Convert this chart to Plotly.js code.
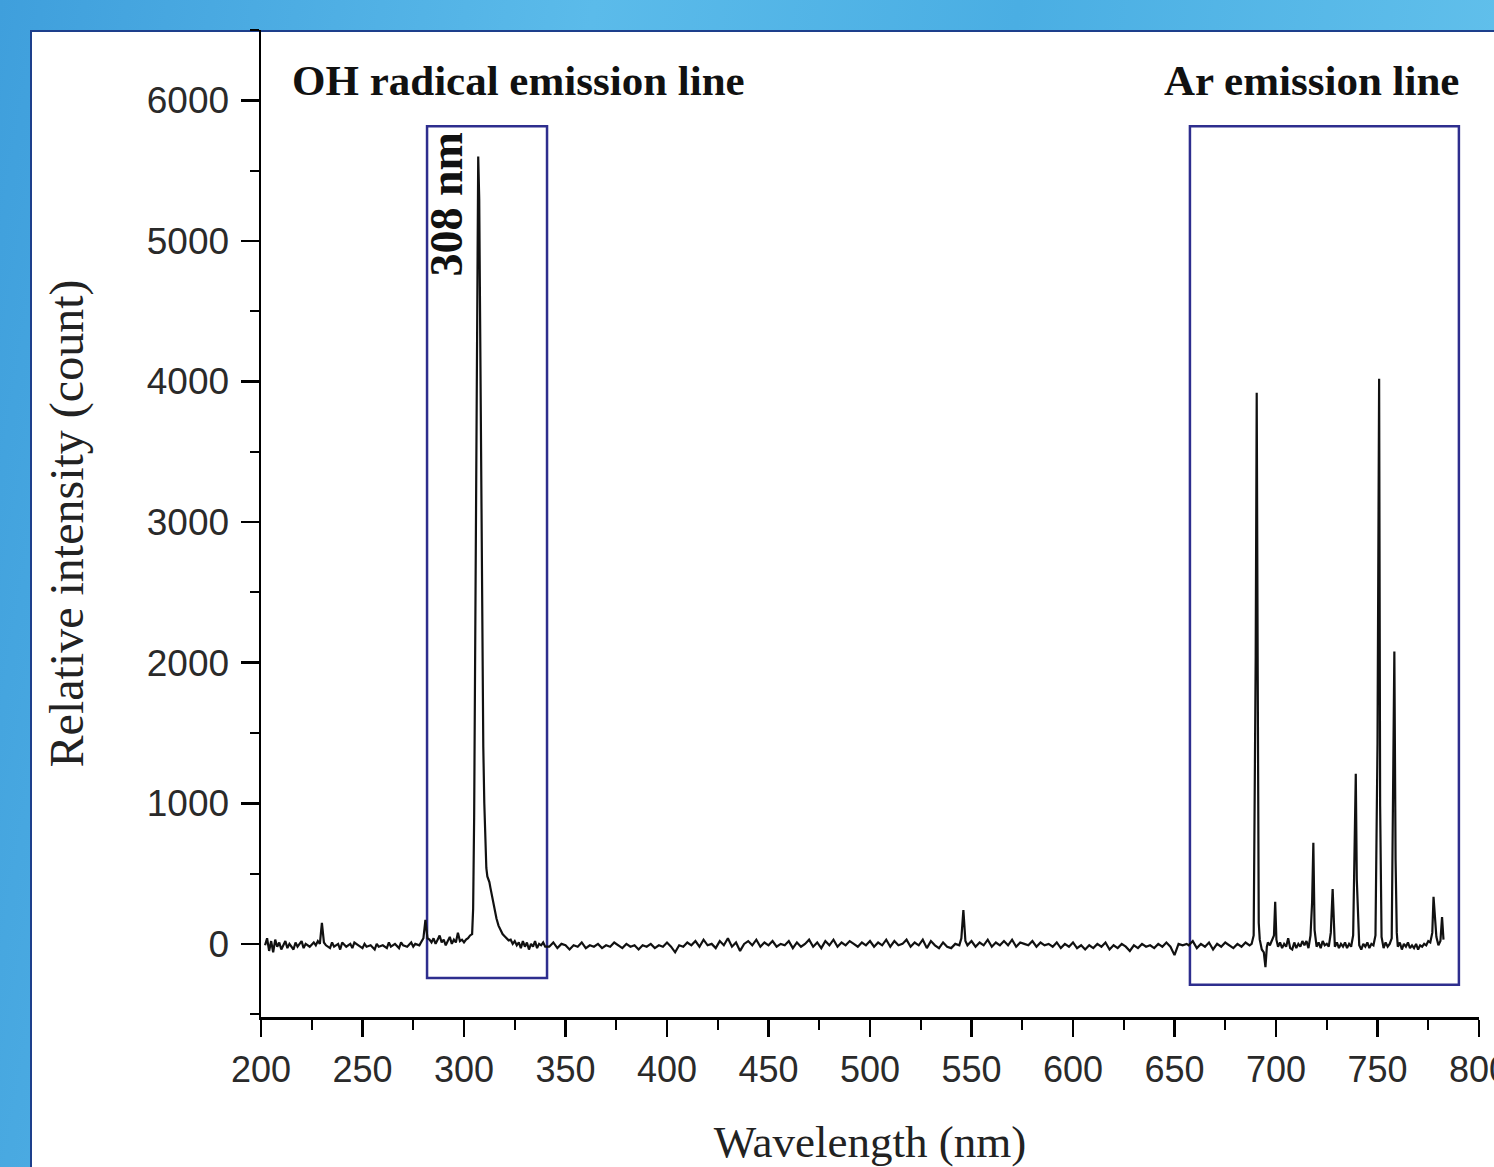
<!DOCTYPE html>
<html>
<head>
<meta charset="utf-8">
<script src="https://cdn.plot.ly/plotly-3.0.1.min.js"></script>
<style>
  html, body { margin:0; padding:0; width:1494px; height:1167px; overflow:hidden; }
  body { background: linear-gradient(100deg, #3f9fdc 0%, #5bbbea 35%, #4aaee3 60%, #69c6ee 100%); position:relative; }
  #panel { position:absolute; left:30px; top:30px; width:1500px; height:1200px; background:#ffffff; border:2.5px solid #1d3f8c; box-sizing:border-box; }
  #chart { position:absolute; left:0; top:0; width:1494px; height:1167px; }
</style>
</head>
<body>
<div id="panel"></div>
<div id="chart"></div>
<script>
// ---- Spectrum data ----
// UV baseline region
const wlUV  = [202,203,204,205,206,207,208,209,210,212,213,214,216,217,218,220,221,222,224,226,227,228,229,230,231,232,234,235,236,238,239,240,242,244,245,246,248,250,251,252,254,256,257,258,260,262,263,264,266,268,269,270,272,274,275,276,278,279,280];
const intUV = [-10,40,-50,20,-60,30,-20,10,-40,20,-30,0,-40,10,-20,20,-30,0,-20,10,-10,20,0,150,10,-10,-30,10,-20,0,-40,10,-20,0,-30,10,-10,-30,0,-20,-10,-40,0,-20,-10,-30,10,-20,0,-30,10,-10,-20,10,-20,0,-10,20,40];

// OH radical band region
const wlOH  = [281,282,283,284,285,286,287,288,289,290,291,292,293,294,295,296,297,298,299,300,301,302,303,304,304.5,305,305.5,306,306.5,307,307.5,308,308.5,309,309.5,310,310.5,311,311.5,312,312.5,313,314,315,316,317,318,319,320,321,322,323,324,325,326,327,328,329,330,331,332,333,334,335,336,337,338,339,340];
const intOH = [170,40,30,10,40,0,30,60,10,30,-10,20,50,0,30,10,80,20,30,10,30,40,60,70,250,900,2200,3800,4900,5600,5300,4200,3000,2000,1400,1000,700,540,480,460,440,400,320,250,180,130,100,70,55,40,25,30,0,20,-10,10,-30,20,-20,10,-40,0,-20,20,-30,0,-10,10,-20];

// Visible baseline region
const wlVis  = [342,344,346,348,350,352,354,356,358,360,362,364,366,368,370,372,374,376,378,380,382,384,386,388,390,392,394,396,398,400,402,404,406,408,410,412,414,416,418,420,422,424,426,428,430,432,434,436,438,440,442,444,446,448,450,452,454,456,458,460,462,464,466,468,470,472,474,476,478,480,482,484,486,488,490,492,494,496,498,500,502,504,506,508,510,512,514,516,518,520,522,524,526,528,530,532,534,536,538,540,542,544,545,546,547,548,550,552,554,556,558,560,562,564,566,568,570,572,574,576,578,580,582,584,586,588,590,592,594,596,598,600,602,604,606,608,610,612,614,616,618,620,622,624,626,628,630,632,634,636,638,640,642,644,646,648,650,652,654,656];
const intVis = [-20,10,-30,0,-10,-40,-10,-20,10,-30,-10,-20,0,-30,-10,-20,10,-10,-30,0,-20,-10,-40,-10,-20,0,-30,-10,-20,10,-20,-60,-10,-20,10,-10,20,-20,30,-10,0,-30,20,-10,40,-20,10,-50,0,20,-10,30,-20,10,-10,20,-20,0,-10,20,-30,10,-20,0,30,-20,10,-30,20,-10,30,-20,10,-10,20,0,-20,10,-10,20,-20,10,-10,30,-20,20,-10,0,30,-20,10,-10,30,-30,20,-10,-30,10,-20,-30,0,-10,40,240,20,-10,20,-20,10,-10,30,-20,10,-10,20,-10,30,-20,10,0,-10,20,-20,10,-10,0,-20,10,-30,0,-20,10,-30,-10,-40,-10,-30,0,-20,10,-40,-10,-30,0,-20,-50,-10,-30,0,-20,-10,-30,0,-20,10,-20,-80,0,-10,0];

// Ar emission region
const wlAr  = [657,659,661,663,665,667,669,671,673,675,677,679,681,683,685,687,688,689,690,690.5,691,691.5,692,693,694,694.8,695.5,696,697,698,699,699.6,700.2,701,702,703,704,705,706,707,708,709,710,711,712,713,714,715,716,717,717.8,718.4,719,720,721,722,723,724,725,726,727,727.9,728.5,729,730,731,732,733,734,735,736,737,738,738.8,739.3,739.8,740.5,741,742,743,744,745,746,747,748,749,750,750.8,751.3,752,753,754,755,756,757,757.7,758.3,758.9,759.5,760,761,762,763,764,765,766,767,768,769,770,771,772,773,774,775,776,777,777.6,778.2,779,780,781,781.8,782.5];
const intAr = [-10,20,-30,0,-20,10,-40,0,-20,10,-10,-30,0,-20,10,-10,0,60,2050,3920,1900,150,30,-40,-60,-165,-20,10,-10,20,60,300,30,-20,10,-30,0,-20,40,-30,-40,10,-30,0,-20,20,-10,20,-30,60,300,720,100,-20,10,-30,20,-10,0,-20,80,390,140,-20,10,-30,0,-20,10,-30,0,-20,60,980,1210,460,100,-10,-40,0,-20,10,-30,0,-10,60,1420,4020,980,50,-30,10,-20,0,40,1330,2080,600,80,-20,10,-40,0,-20,10,-30,-10,-30,0,-40,-10,-20,0,-10,20,10,80,335,200,50,-10,20,190,30];

// Axis ticks
const yTicks = [0,1000,2000,3000,4000,5000,6000];
const xTicks = [200,250,300,350,400,450,500,550,600,650,700,750,800];

// Highlight boxes [x0, x1, y0, y1]
const ohBox = [281.8, 340.9, -242, 5815];
const arBox = [657.6, 790.1, -291, 5815];

const wavelength = wlUV.concat(wlOH, wlVis, wlAr);
const intensity  = intUV.concat(intOH, intVis, intAr);

const serif = "Liberation Serif, Times New Roman, serif";
const sans  = "Liberation Sans, Arial, sans-serif";

const trace = {
  x: wavelength, y: intensity, type: 'scatter', mode: 'lines',
  line: {color: '#111111', width: 2.2},
  hoverinfo: 'skip'
};

const boxLine = {color: '#2e2e8e', width: 2.5};

const layout = {
  width: 1494, height: 1167,
  margin: {l: 261, r: 15, t: 30, b: 150},
  paper_bgcolor: 'rgba(0,0,0,0)',
  plot_bgcolor: 'rgba(0,0,0,0)',
  showlegend: false,
  xaxis: {
    range: [200, 800], tickvals: xTicks, ticktext: xTicks.map(String),
    showline: true, linecolor: '#000', linewidth: 2.5,
    showgrid: false, zeroline: false,
    ticks: 'outside', ticklen: 17, tickwidth: 2.5, tickcolor: '#000',
    minor: {dtick: 25, tick0: 200, ticks: 'outside', ticklen: 10, tickwidth: 2, tickcolor: '#000', showgrid: false},
    tickfont: {family: sans, size: 36, color: '#2a2a2a'},
    ticklabelstandoff: 2,
    ticklabeloverflow: 'allow',
    title: {text: 'Wavelength (nm)', font: {family: serif, size: 45, color: '#222'}, standoff: 38}
  },
  yaxis: {
    range: [-520, 6500], tickvals: yTicks, ticktext: yTicks.map(String),
    showline: true, linecolor: '#000', linewidth: 2.5,
    showgrid: false, zeroline: false,
    ticks: 'outside', ticklen: 18, tickwidth: 2.5, tickcolor: '#000',
    minor: {dtick: 500, tick0: 0, ticks: 'outside', ticklen: 9, tickwidth: 2, tickcolor: '#000', showgrid: false},
    tickfont: {family: sans, size: 37, color: '#2a2a2a'},
    ticklabelstandoff: 4,
    title: {text: 'Relative intensity (count)', font: {family: serif, size: 48, color: '#222'}, standoff: 48}
  },
  shapes: [
    {type: 'rect', xref: 'x', yref: 'y', x0: ohBox[0], x1: ohBox[1], y0: ohBox[2], y1: ohBox[3], line: boxLine, fillcolor: 'rgba(0,0,0,0)', layer: 'below'},
    {type: 'rect', xref: 'x', yref: 'y', x0: arBox[0], x1: arBox[1], y0: arBox[2], y1: arBox[3], line: boxLine, fillcolor: 'rgba(0,0,0,0)', layer: 'below'}
  ],
  annotations: [
    {x: 214.3, y: 6140, xref: 'x', yref: 'y', text: '<b>OH radical emission line</b>', showarrow: false,
     xanchor: 'left', yanchor: 'middle', font: {family: serif, size: 43, color: '#111'}},
    {x: 791.2, y: 6140, xref: 'x', yref: 'y', text: '<b>Ar emission line</b>', showarrow: false,
     xanchor: 'right', yanchor: 'middle', font: {family: serif, size: 43, color: '#111'}},
    {x: 291.2, y: 5260, xref: 'x', yref: 'y', text: '<b>308 nm</b>', showarrow: false, textangle: -90,
     xanchor: 'center', yanchor: 'middle', font: {family: serif, size: 46, color: '#111'}}
  ]
};

Plotly.newPlot('chart', [trace], layout, {displayModeBar: false, staticPlot: true});
</script>
</body>
</html>
